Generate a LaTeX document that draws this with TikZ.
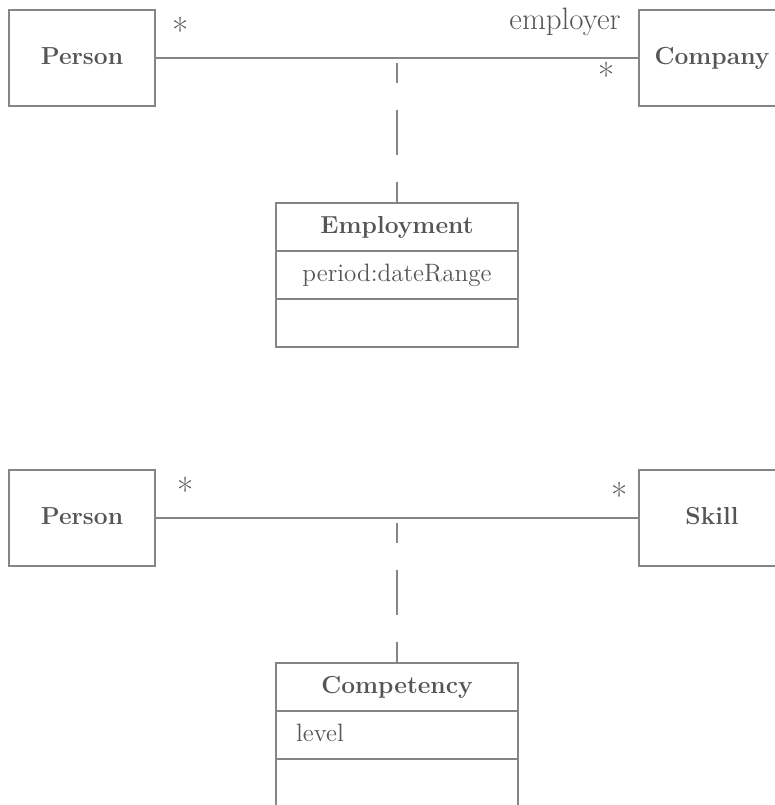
\documentclass[tikz,border=0pt]{standalone}
\usetikzlibrary{positioning}
\definecolor{inkgray}{HTML}{555555}
\definecolor{rulegray}{HTML}{858585}
\begin{document}
\begin{tikzpicture}[
        every node/.style={text=inkgray},
        classbox/.style={rectangle, draw=rulegray, line width=0.6pt, minimum width=2.92cm, minimum height=1.92cm, text height=0.69em, text depth=0pt, font=\fontsize{14}{16}\selectfont\bfseries},
        namepart/.style={rectangle, draw=rulegray, line width=0.6pt, minimum width=4.84cm, minimum height=0.96cm, outer sep=0pt, text height=0.69em, text depth=0pt, font=\fontsize{14}{16}\selectfont\bfseries},
        attrpart/.style={rectangle, draw=rulegray, line width=0.6pt, minimum width=4.84cm, minimum height=0.96cm, outer sep=0pt, text height=0.69em, text depth=0pt, font=\fontsize{14.3}{17}\selectfont},
        mult/.style={font=\fontsize{20}{22}\selectfont},
        role/.style={font=\fontsize{17.6}{20}\selectfont},
        assoc/.style={draw=rulegray, line width=0.6pt},
        link/.style={draw=rulegray, line width=0.6pt, dash pattern=on 0cm off 0.1cm on 0.4cm off 0.54cm on 0.9cm off 0.54cm on 0.6cm}
        ]
        \useasboundingbox (0, 0) rectangle (15.5, -16.1);

        % Employment association (top)
        \node[classbox] (p1) at (1.64, -1.16) {Person};
        \node[classbox] (co) at (14.24, -1.16) {Company};
        \draw[assoc] (p1.east) -- (co.west);

        \node[mult] (p1m) at (3.62, -0.6) {*};
        \node[mult] (com) at (12.14, -1.5) {*};
        \node[role] (emprole) at (11.3, -0.44) {employer};

        \node[namepart] (emp) at (7.94, -4.54) {Employment};
        \node[attrpart, below=0cm of emp] (empattr) {period:dateRange};
        \node[attrpart, below=0cm of empattr] (empops) {};
        \draw[link] (emp.north |- p1.east) -- (emp.north);

        % Competency association (bottom)
        \node[classbox] (p2) at (1.64, -10.36) {Person};
        \node[classbox] (sk) at (14.24, -10.36) {Skill};
        \draw[assoc] (p2.east) -- (sk.west);

        \node[mult] (p2m) at (3.72, -9.8) {*};
        \node[mult] (skm) at (12.4, -9.9) {*};

        \node[namepart] (comp) at (7.94, -13.74) {Competency};
        \node[attrpart, below=0cm of comp, text width=4.04cm, align=left] (compattr) {level};
        \node[attrpart, below=0cm of compattr] (compops) {};
        \draw[link] (comp.north |- p2.east) -- (comp.north);

    \end{tikzpicture}
\end{document}
